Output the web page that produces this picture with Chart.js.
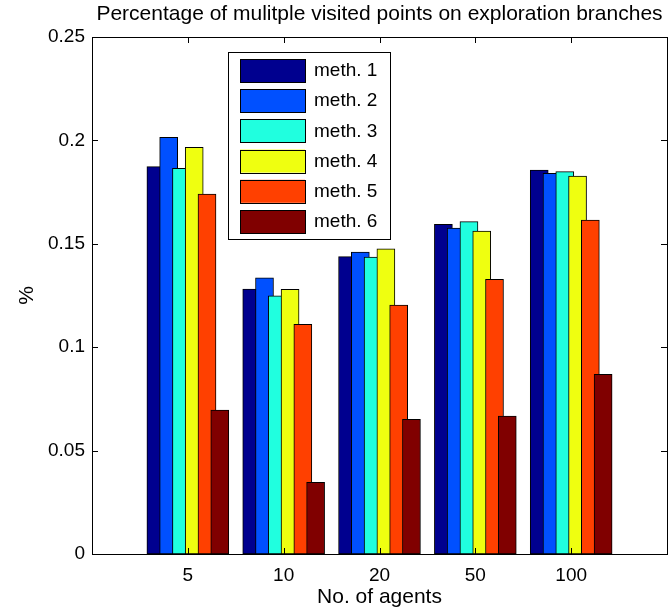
<!DOCTYPE html>
<html>
<head>
<meta charset="utf-8">
<script src="https://cdn.jsdelivr.net/npm/chart.js@4"></script>
<style>
  body { margin: 0; background: #fff; }
  #wrap { width: 670px; height: 613px; }
</style>
</head>
<body>
<div id="wrap"><canvas id="barchart" width="670" height="613"></canvas></div>
<script>
//Groups along the x axis (number of agents)
const agents = ["5", "10", "20", "50", "100"];
const methods = ["meth. 1", "meth. 2", "meth. 3", "meth. 4", "meth. 5", "meth. 6"];

//Share of points visited more than once, one array per method
const meth1 = [0.1873, 0.1281, 0.1438, 0.1594, 0.1857];
const meth2 = [0.2015, 0.1336, 0.1460, 0.1576, 0.1841];
const meth3 = [0.1865, 0.1249, 0.1436, 0.1607, 0.1849];
const meth4 = [0.1967, 0.1280, 0.1476, 0.1562, 0.1828];
const meth5 = [0.1741, 0.1111, 0.1204, 0.1328, 0.1615];
const meth6 = [0.0696, 0.0347, 0.0651, 0.0667, 0.0869];
const series = [meth1, meth2, meth3, meth4, meth5, meth6];

//Jet colours
const colours = ["#00008F", "#0050FF", "#20FFDF", "#EFFF10", "#FF4000", "#800000"];

const yTicks = [0, 0.05, 0.1, 0.15, 0.2, 0.25];
const fontFamily = "'Liberation Sans', Arial, Helvetica, sans-serif";

//Bars of one group sit 0.8/6 apart around the group centre
const groupWidth = 0.8;
const datasets = series.map(function(values, i) {
    const shift = (i - (series.length - 1) / 2) * groupWidth / series.length;
    return {
        label: methods[i],
        data: values.map(function(v, k) { return { x: k + 1 + shift, y: v }; }),
        backgroundColor: colours[i],
        borderColor: '#000',
        borderWidth: 1,
        borderSkipped: false,
        barThickness: 18,
        grouped: false,
        order: series.length - i,
    };
});

//Box round the axes with inward ticks on all four sides
const axesBox = {
    id: 'axesBox',
    afterDraw(chart) {
        const ctx = chart.ctx;
        const area = chart.chartArea;
        const x = chart.scales.x;
        const y = chart.scales.y;
        const len = 6;
        ctx.save();
        ctx.strokeStyle = '#000';
        ctx.lineWidth = 1;
        ctx.beginPath();
        agents.forEach(function(a, k) {
            const px = Math.round(x.getPixelForValue(k + 1)) + 0.5;
            ctx.moveTo(px, area.bottom); ctx.lineTo(px, area.bottom - len);
            ctx.moveTo(px, area.top); ctx.lineTo(px, area.top + len);
        });
        yTicks.forEach(function(t) {
            const py = Math.round(y.getPixelForValue(t)) + 0.5;
            ctx.moveTo(area.left, py); ctx.lineTo(area.left + len, py);
            ctx.moveTo(area.right, py); ctx.lineTo(area.right - len, py);
        });
        ctx.stroke();
        ctx.strokeRect(Math.round(area.left) + 0.5, Math.round(area.top) + 0.5,
            Math.round(area.right - area.left), Math.round(area.bottom - area.top));
        ctx.restore();
    }
};

//Legend box drawn inside the plot area
const boxLegend = {
    id: 'boxLegend',
    afterDraw(chart) {
        const ctx = chart.ctx;
        const area = chart.chartArea;
        const left = area.left + 136;
        const top = area.top + 15;
        const w = 162, h = 187;
        ctx.save();
        ctx.fillStyle = '#fff';
        ctx.fillRect(left, top, w, h);
        ctx.strokeStyle = '#000';
        ctx.lineWidth = 1;
        ctx.strokeRect(left + 0.5, top + 0.5, w, h);
        ctx.font = '19px ' + fontFamily;
        ctx.textBaseline = 'middle';
        chart.data.datasets.forEach(function(ds, i) {
            const sy = top + 7 + i * 30.2;
            ctx.fillStyle = ds.backgroundColor;
            ctx.fillRect(left + 12, sy, 65, 23);
            ctx.strokeRect(left + 12.5, Math.round(sy) + 0.5, 65, 23);
            ctx.fillStyle = '#000';
            ctx.fillText(ds.label, left + 86, sy + 12);
        });
        ctx.restore();
    }
};

const barChart = new Chart(
    document.getElementById('barchart'),
    {
        type: 'bar',
        data: { datasets: datasets },
        options: {
            responsive: false,
            animation: false,
            layout: { padding: { left: 0, right: 3, top: 0, bottom: 0 } },
            scales: {
                x: {
                    type: 'linear',
                    offset: false,
                    min: 0,
                    max: 6,
                    afterFit: function(s) { s.height = 59; },
                    afterBuildTicks: function(s) {
                        s.ticks = agents.map(function(a, k) { return { value: k + 1 }; });
                    },
                    ticks: {
                        autoSkip: false,
                        maxRotation: 0,
                        padding: 10,
                        color: '#000',
                        font: { family: fontFamily, size: 19 },
                        callback: function(v) { return agents[v - 1]; },
                    },
                    grid: { display: false, drawTicks: false },
                    border: { display: false },
                    title: {
                        display: true,
                        text: 'No. of agents',
                        color: '#000',
                        font: { family: fontFamily, size: 21 },
                        padding: { top: 0, bottom: 3 },
                    },
                },
                y: {
                    min: 0,
                    max: 0.25,
                    afterFit: function(s) { s.width = 92; },
                    afterBuildTicks: function(s) {
                        s.ticks = yTicks.map(function(t) { return { value: t }; });
                    },
                    ticks: {
                        padding: 7,
                        color: '#000',
                        font: { family: fontFamily, size: 19 },
                        callback: function(v) { return String(+v.toFixed(2)); },
                    },
                    grid: { display: false, drawTicks: false },
                    border: { display: false },
                    title: {
                        display: true,
                        text: '%',
                        color: '#000',
                        font: { family: fontFamily, size: 21 },
                        padding: { top: 15, bottom: 0 },
                    },
                },
            },
            plugins: {
                legend: { display: false },
                tooltip: { enabled: false },
                title: {
                    display: true,
                    fullSize: false,
                    text: 'Percentage of mulitple visited points on exploration branches',
                    color: '#000',
                    font: { family: fontFamily, size: 21, weight: 'normal' },
                    padding: { top: 2, bottom: 9.8 },
                },
            },
        },
        plugins: [axesBox, boxLegend],
    }
);
</script>
</body>
</html>
